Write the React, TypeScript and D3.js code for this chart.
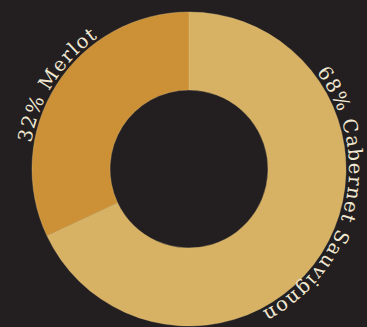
import React from "react";
import * as d3 from "d3";

const categories = ["Cabernet Sauvignon", "Merlot"];
const shares = [68, 32];
const colors = ["#d8b264", "#cc9137"];
const labelCenterDeg = [103, 302.5];

const W = 367;
const H = 327;
const cx = 189;
const cy = 169;
const outerR = 157;
const innerR = 79;
const labelR = outerR + 3;

export default function App() {
  const pie = d3.pie<number>().sort(null).value((d) => d);
  const arcs = pie(shares);
  const arcGen = d3.arc<d3.PieArcDatum<number>>().innerRadius(innerR).outerRadius(outerR);

  const labelPath = (i: number) => {
    const mid = (labelCenterDeg[i] * Math.PI) / 180;
    const p = d3.path();
    const a0 = mid - Math.PI / 2 - Math.PI / 2;
    const a1 = mid + Math.PI / 2 - Math.PI / 2;
    p.arc(0, 0, labelR, a0, a1, false);
    return p.toString();
  };

  return (
    <svg
      width={W}
      height={H}
      style={{ position: "absolute", left: 0, top: 0, display: "block" }}
    >
      <rect width={W} height={H} fill="#231f20" />
      <g transform={`translate(${cx},${cy})`}>
        {arcs.map((a, i) => (
          <path key={i} d={arcGen(a) || ""} fill={colors[i]} stroke="#e0c080" strokeWidth={0.6} strokeOpacity={0.6} />
        ))}
        <defs>
          {arcs.map((_, i) => (
            <path key={i} id={`lp${i}`} d={labelPath(i)} fill="none" />
          ))}
        </defs>
        {arcs.map((_, i) => (
          <text
            key={i}
            fill="#f1e8d2"
            fontFamily="'DejaVu Serif', 'Liberation Serif', serif"
            fontSize={19.5}
            letterSpacing={1.3}
          >
            <textPath href={`#lp${i}`} startOffset="50%" textAnchor="middle">
              {`${shares[i]}% ${categories[i]}`}
            </textPath>
          </text>
        ))}
      </g>
    </svg>
  );
}
